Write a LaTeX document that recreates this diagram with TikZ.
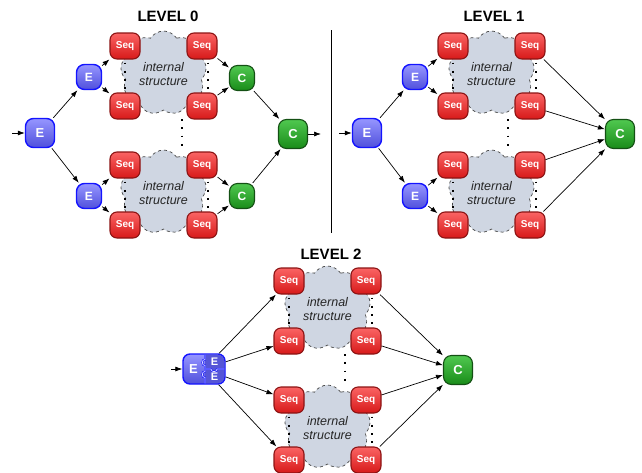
\documentclass[tikz,border=0pt]{standalone}
\usepackage{fontspec}
\setmainfont{Liberation Sans}
\usetikzlibrary{shapes.symbols,arrows.meta}

\definecolor{seqtop}{RGB}{250,100,100}
\definecolor{seqbot}{RGB}{215,25,25}
\definecolor{seqedge}{RGB}{140,20,20}
\definecolor{etop}{RGB}{150,150,255}
\definecolor{ebot}{RGB}{80,80,220}
\definecolor{edark}{RGB}{85,85,215}
\definecolor{eedge}{RGB}{20,20,255}
\definecolor{ctop}{RGB}{80,200,80}
\definecolor{cbot}{RGB}{25,140,25}
\definecolor{cedge}{RGB}{20,80,20}
\definecolor{cloudfill}{RGB}{207,214,226}
\definecolor{cloudedge}{RGB}{70,70,70}

\tikzset{
  base/.style={rectangle, rounded corners=7pt, inner sep=0pt, text=white, line width=1.1pt},
  seqbox/.style={base, minimum width=30pt, minimum height=26pt, draw=seqedge,
    top color=seqtop, bottom color=seqbot, font=\bfseries\fontsize{10}{10}\selectfont},
  ebig/.style={base, rounded corners=8pt, minimum size=29pt, draw=eedge, line width=1.4pt,
    top color=etop, bottom color=ebot, font=\bfseries\fontsize{13}{13}\selectfont},
  esmall/.style={ebig, minimum size=25pt, font=\bfseries\fontsize{12}{12}\selectfont},
  cbig/.style={base, rounded corners=8pt, minimum size=29pt, draw=cedge, top color=ctop,
    bottom color=cbot, font=\bfseries\fontsize{13}{13}\selectfont},
  csmall/.style={cbig, minimum size=25pt, font=\bfseries\fontsize{12}{12}\selectfont},
  cloudbox/.style={cloud, cloud puffs=9, cloud puff arc=115, aspect=1.0,
    minimum width=86pt, minimum height=84pt, fill=cloudfill, draw=cloudedge,
    dashed, line width=0.7pt, inner sep=0pt},
  cloudtext/.style={align=center, text=black!85, inner sep=0pt,
    font=\itshape\fontsize{12.5}{14}\selectfont},
  title/.style={font=\bfseries\fontsize{15}{15}\selectfont, inner sep=0pt},
  arr/.style={-{Latex[length=7pt,width=5pt]}, line width=0.7pt, black},
  dotline/.style={line width=1.8pt, dash pattern=on 1.8pt off 6.5pt, black},
  puzz/.style={draw=eedge, line width=0.6pt, double=white!70!etop, double distance=0.7pt},
}

% four Seq boxes around one cloud: name, left x, right x, centre y
\newcommand{\seqgroup}[4]{%
  \node[cloudbox] (#1cl) at ({(#2+#3)/2},#4-3) {};
  \node[cloudtext] (#1tx) at ({(#2+#3)/2},#4-2) {internal\\structure};
  \node[seqbox] (#1a) at (#2,#4-30) {Seq};
  \node[seqbox] (#1b) at (#2,#4+30) {Seq};
  \node[seqbox] (#1c) at (#3,#4-30) {Seq};
  \node[seqbox] (#1d) at (#3,#4+30) {Seq};
  \draw[dotline] ([yshift=-3pt]#1a.south) -- (#1b.north);
  \draw[dotline] ([xshift=6pt,yshift=-3pt]#1c.south) -- ([xshift=6pt]#1d.north);
}

\begin{document}
\begin{tikzpicture}[x=1pt,y=-1pt]
\useasboundingbox (0,0) rectangle (642,472);

% ---------------- level 0 ----------------
\node[title] (t0) at (168,16) {LEVEL 0};
\seqgroup{p}{125}{202}{76}
\seqgroup{q}{125}{202}{195}
\coordinate (pq1) at (182,119);
\coordinate (pq2) at (182,146);
\draw[dotline] (pq1) -- (pq2);
\node[ebig] (e0) at (40,133) {E};
\node[esmall] (e01) at (89,77) {E};
\node[esmall] (e02) at (89,196) {E};
\node[csmall] (c01) at (242,78) {C};
\node[csmall] (c02) at (242,196) {C};
\node[cbig] (c0) at (293,134) {C};
\coordinate (in0) at (12,133);
\coordinate (out0) at (321,134);
\draw[arr] (in0) -- (e0);
\draw[arr] (e0) -- (e01);
\draw[arr] (e0) -- (e02);
\draw[arr] (e01) -- (pa);
\draw[arr] (e01) -- (pb);
\draw[arr] (e02) -- (qa);
\draw[arr] (e02) -- (qb);
\draw[arr] (pc) -- (c01);
\draw[arr] (pd) -- (c01);
\draw[arr] (qc) -- (c02);
\draw[arr] (qd) -- (c02);
\draw[arr] (c01) -- (c0);
\draw[arr] (c02) -- (c0);
\draw[arr] (c0) -- (out0);

% divider
\coordinate (d1) at (331,30);
\coordinate (d2) at (331,233);
\draw[line width=0.8pt] (d1) -- (d2);

% ---------------- level 1 ----------------
\node[title] (t1) at (494,16) {LEVEL 1};
\seqgroup{r}{453}{530}{76}
\seqgroup{s}{453}{530}{195}
\coordinate (rs1) at (508,119);
\coordinate (rs2) at (508,146);
\draw[dotline] (rs1) -- (rs2);
\node[ebig] (e1) at (367,133) {E};
\node[esmall] (e11) at (415,77) {E};
\node[esmall] (e12) at (415,196) {E};
\node[cbig] (c1) at (620,134) {C};
\coordinate (in1) at (339,133);
\draw[arr] (in1) -- (e1);
\draw[arr] (e1) -- (e11);
\draw[arr] (e1) -- (e12);
\draw[arr] (e11) -- (ra);
\draw[arr] (e11) -- (rb);
\draw[arr] (e12) -- (sa);
\draw[arr] (e12) -- (sb);
\draw[arr] (rc) -- (c1);
\draw[arr] (rd) -- (c1);
\draw[arr] (sc) -- (c1);
\draw[arr] (sd) -- (c1);

% ---------------- level 2 ----------------
\node[title] (t2) at (331,254) {LEVEL 2};
\seqgroup{u}{289}{366}{311}
\seqgroup{v}{289}{366}{430}
\coordinate (uv1) at (345,354);
\coordinate (uv2) at (345,381);
\draw[dotline] (uv1) -- (uv2);

% merged E block: one big E joined to two small ones like puzzle pieces
\node[base, rounded corners=7pt, minimum width=42pt, minimum height=30pt, draw=eedge,
  line width=1.4pt, top color=etop, bottom color=ebot] (ee) at (204,369) {};
\fill[edark] (205,354.7) -- (218,354.7) arc[start angle=90, end angle=0, radius=6.3pt]
  -- (224.3,377) arc[start angle=0, end angle=-90, radius=6.3pt] -- (205,383.3) -- cycle;
\draw[puzz] (205,354.7) -- (205,359.5) .. controls (201.5,359) and (201.5,366) .. (205,365.5)
  -- (205,371.5) .. controls (201.5,371) and (201.5,378) .. (205,377.5) -- (205,383.3);
\draw[puzz] (205,369) -- (211,369) .. controls (211,372.5) and (217,372.5) .. (217,369) -- (224.3,369);
\node[font=\bfseries\fontsize{13}{13}\selectfont, text=white, inner sep=0pt] (eeL) at (193.5,369.5) {E};
\node[font=\bfseries\fontsize{11}{11}\selectfont, text=white, inner sep=0pt] (eeA) at (214.5,362) {E};
\node[font=\bfseries\fontsize{11}{11}\selectfont, text=white, inner sep=0pt] (eeB) at (214.5,377) {E};
\node[cbig] (c2) at (458,370) {C};
\coordinate (in2) at (171,369);
\draw[arr] (in2) -- (ee);
\draw[arr] (ee) -- (ua);
\draw[arr] (ee) -- (ub);
\draw[arr] (ee) -- (va);
\draw[arr] (ee) -- (vb);
\draw[arr] (uc) -- (c2);
\draw[arr] (ud) -- (c2);
\draw[arr] (vc) -- (c2);
\draw[arr] (vd) -- (c2);
\end{tikzpicture}
\end{document}
